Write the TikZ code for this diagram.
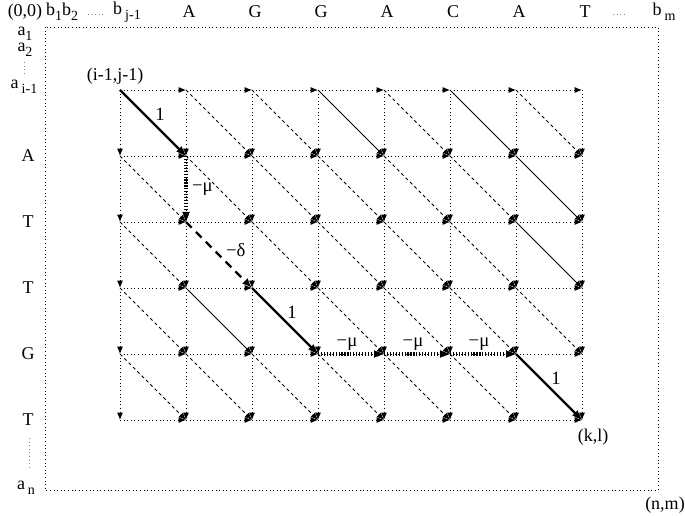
\documentclass[tikz,border=0pt]{standalone}
\usepackage{fontspec}
\setmainfont{Liberation Serif}
\usetikzlibrary{arrows.meta}
\newcommand{\lowidx}[1]{\raisebox{-0.55ex}{\fontsize{10.5}{11}\selectfont #1}}

\begin{document}
\begin{tikzpicture}[x=0.75pt,y=-0.75pt,>={Latex[length=5.5pt,width=4.5pt]},
  font=\fontsize{13.5}{15}\selectfont,
  gridarr/.style={->,dotted,line width=0.7pt},
  mismatch/.style={->,dash pattern=on 2.4pt off 2.2pt,line width=0.6pt},
  matchd/.style={->,line width=0.7pt},
  hit/.style={->,line width=1.7pt,>={Latex[length=7.5pt,width=6pt]}},
  gapstep/.style={->,line width=3pt,dash pattern=on 0.9pt off 1.3pt,>={Latex[length=7.5pt,width=6pt]}},
  delstep/.style={->,line width=1.7pt,dash pattern=on 6pt off 4.5pt,>={Latex[length=7.5pt,width=6pt]}},
  lab/.style={inner sep=1pt,font=\fontsize{14}{15}\selectfont},
  ellip/.style={dotted,line width=0.7pt,gray}]
\useasboundingbox (0,0) rectangle (685,516);

% lattice points
\foreach \r in {0,...,5}
  \foreach \c in {0,...,7}
    \coordinate (p\r\c) at ({120+66*\c},{90+66*\r});

% outer frame
\draw[dotted,line width=0.7pt] (45,27) rectangle (658,490);

% sequence labels
\node (origin) at (25,12) {(0,0)};
\node (bone) at (62,12) {b\lowidx{1}b\lowidx{2}};
\node (bjm) at (127,12) {b\,\lowidx{j-1}};
\node (bm) at (664,12) {b\,\lowidx{m}};
\foreach \c/\t in {1/A,2/G,3/G,4/A,5/C,6/A,7/T}
  \node (col\c) at ({123+66*\c},12) {\t};
\node (aone) at (25,34) {a\lowidx{1}};
\node (atwo) at (25,50) {a\lowidx{2}};
\node (aim) at (24,87) {a\,\lowidx{i-1}};
\node (an) at (26,488) {a\,\lowidx{n}};
\foreach \r/\t in {1/A,2/T,3/T,4/G,5/T}
  \node (row\r) at (28,{90+66*\r}) {\t};
\draw[ellip] (88,14) -- (103,14);
\draw[ellip] (613,14) -- (627,14);
\draw[ellip] (24,62) -- (24,75);
\draw[ellip] (29,438) -- (29,470);

% horizontal and vertical moves
\foreach \r in {0,...,5}
  \foreach \c in {0,...,6}{
    \pgfmathtruncatemacro{\nc}{\c+1}
    \draw[gridarr] (p\r\c) -- (p\r\nc);
  }
\foreach \c in {0,...,7}
  \foreach \r in {0,...,4}{
    \pgfmathtruncatemacro{\nr}{\r+1}
    \draw[gridarr] (p\r\c) -- (p\nr\c);
  }

% diagonal moves: solid where the letters match
\foreach \r/\rc in {1/A,2/T,3/T,4/G,5/T}
  \foreach \c/\cc in {1/A,2/G,3/G,4/A,5/C,6/A,7/T}{
    \pgfmathtruncatemacro{\pr}{\r-1}
    \pgfmathtruncatemacro{\pc}{\c-1}
    \ifx\rc\cc
      \draw[matchd] (p\pr\pc) -- (p\r\c);
    \else
      \ifnum\r\c=32 \else
        \draw[mismatch] (p\pr\pc) -- (p\r\c);
      \fi
    \fi
  }

% the marked alignment path
\draw[hit] (p00) -- node[lab,above right]{1} (p11);
\draw[gapstep] (p11) -- node[lab,right,xshift=2pt]{−μ} (p21);
\draw[delstep] (p21) -- node[lab,anchor=west,xshift=3.5pt,yshift=3.5pt]{−δ} (p32);
\draw[hit] (p32) -- node[lab,above right]{1} (p43);
\draw[gapstep] (p43) -- node[lab,above,xshift=-3pt]{−μ} (p44);
\draw[gapstep] (p44) -- node[lab,above,xshift=-3pt]{−μ} (p45);
\draw[gapstep] (p45) -- node[lab,above,xshift=-3pt]{−μ} (p46);
\draw[hit] (p46) -- node[lab,above right]{1} (p57);

\node (start) at (115,76) {(i-1,j-1)};
\node (stop) at (593,437) {(k,l)};
\node[anchor=east,inner sep=0pt] (corner) at (685,505) {(n,m)};
\end{tikzpicture}
\end{document}
